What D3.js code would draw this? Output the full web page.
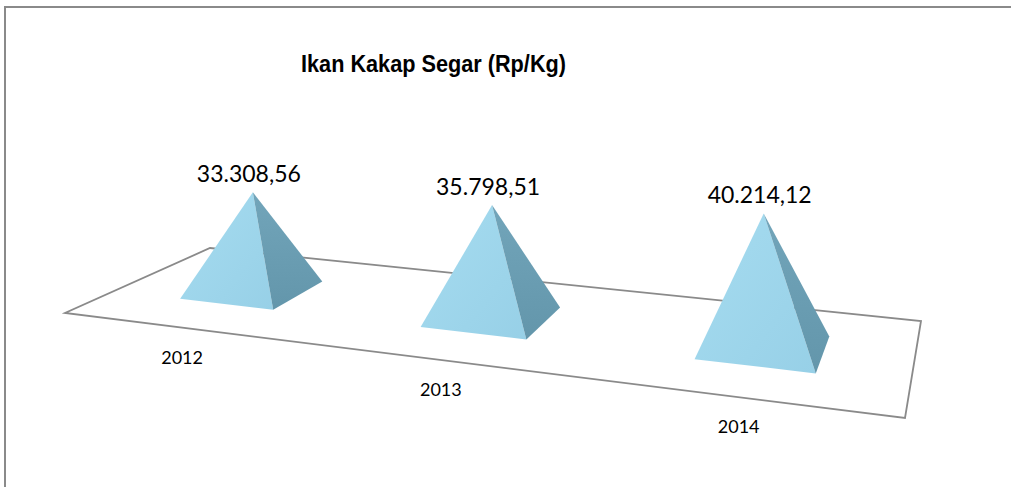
<!DOCTYPE html>
<html>
<head>
<meta charset="utf-8">
<script src="https://cdn.jsdelivr.net/npm/d3@7"></script>
<style>
  body { margin: 0; background: #fff; overflow: hidden; }
  svg { display: block; }
</style>
</head>
<body>
<div id="chart"></div>
<script>
// data
const years = ["2012", "2013", "2014"];
const prices = [33308.56, 35798.51, 40214.12];
const priceLabels = ["33.308,56", "35.798,51", "40.214,12"];
const chartTitle = "Ikan Kakap Segar (Rp/Kg)";

const width = 1011, height = 487;

// floor plane seen in perspective: back-left, back-right, front-right, front-left
const floorCorners = [[210, 248], [921, 321], [905, 418], [65, 313]];

// unit square -> floor quad (projective map), returns [x, y, w]
function makeProjection(q) {
  const [x0, y0] = q[0], [x1, y1] = q[1], [x2, y2] = q[2], [x3, y3] = q[3];
  const dx1 = x1 - x2, dx2 = x3 - x2, dx3 = x0 - x1 + x2 - x3;
  const dy1 = y1 - y2, dy2 = y3 - y2, dy3 = y0 - y1 + y2 - y3;
  const den = dx1 * dy2 - dx2 * dy1;
  const g = (dx3 * dy2 - dx2 * dy3) / den;
  const h = (dx1 * dy3 - dx3 * dy1) / den;
  const a = x1 - x0 + g * x1, b = x3 - x0 + h * x3, c = x0;
  const d = y1 - y0 + g * y1, e = y3 - y0 + h * y3, f = y0;
  return (u, v) => {
    const w = g * u + h * v + 1;
    return [(a * u + b * v + c) / w, (d * u + e * v + f) / w, w];
  };
}
const project = makeProjection(floorCorners);

// scales
const xPos = d3.scalePoint().domain(years).range([0, 1]).padding(0.5);
const yHeight = d3.scaleLinear().domain([0, 50000]).range([0, 131.5]);

const halfU = 0.067, halfV = 0.2, midV = 0.5;

const svg = d3.select("#chart").append("svg")
  .attr("width", width)
  .attr("height", height);

const defs = svg.append("defs");
const gFront = defs.append("linearGradient").attr("id", "front")
  .attr("x1", 0).attr("y1", 0).attr("x2", 1).attr("y2", 1);
gFront.append("stop").attr("offset", "0%").attr("stop-color", "#a6dcf0");
gFront.append("stop").attr("offset", "100%").attr("stop-color", "#97d0e7");
const gSide = defs.append("linearGradient").attr("id", "side")
  .attr("x1", 0).attr("y1", 0).attr("x2", 0).attr("y2", 1);
gSide.append("stop").attr("offset", "0%").attr("stop-color", "#72a5ba");
gSide.append("stop").attr("offset", "100%").attr("stop-color", "#6396ab");

// chart frame
svg.append("path")
  .attr("d", `M5,${height} L5,7 L${width},7`)
  .attr("fill", "none")
  .attr("stroke", "#8a8a8a")
  .attr("stroke-width", 2);

// title
svg.append("text")
  .attr("x", 301)
  .attr("y", 72)
  .attr("textLength", 265)
  .attr("lengthAdjust", "spacingAndGlyphs")
  .attr("font-family", "'Liberation Sans Narrow', 'Liberation Sans', Arial, sans-serif")
  .attr("font-weight", "bold")
  .attr("font-size", "24px")
  .attr("fill", "#000")
  .text(chartTitle);

// floor
const floorPts = [[0, 0], [1, 0], [1, 1], [0, 1]].map(p => project(p[0], p[1]).slice(0, 2));
svg.append("path")
  .attr("d", d3.line()(floorPts) + "Z")
  .attr("fill", "none")
  .attr("stroke", "#8a8a8a")
  .attr("stroke-width", 1.8);

// pyramids
const pyr = years.map((yr, i) => {
  const u = xPos(yr);
  const fl = project(u - halfU, midV + halfV);
  const fr = project(u + halfU, midV + halfV);
  const br = project(u + halfU, midV - halfV);
  const c = project(u, midV);
  const apex = [c[0], c[1] - yHeight(prices[i]) / c[2]];
  return { yr, i, u, fl, fr, br, apex };
});

const gp = svg.selectAll("g.pyr")
  .data(pyr)
  .join("g")
  .attr("class", "pyr");

gp.append("path")
  .attr("d", d => d3.line()([d.apex, d.fl.slice(0, 2), d.fr.slice(0, 2)]) + "Z")
  .attr("fill", "url(#front)");

gp.append("path")
  .attr("d", d => d3.line()([d.apex, d.fr.slice(0, 2), d.br.slice(0, 2)]) + "Z")
  .attr("fill", "url(#side)");

// value labels
svg.selectAll("text.val")
  .data(pyr)
  .join("text")
  .attr("class", "val")
  .attr("x", d => d.apex[0] - 4)
  .attr("y", d => d.apex[1] - 10)
  .attr("text-anchor", "middle")
  .attr("font-family", "Lato, 'Open Sans', sans-serif")
  .attr("font-size", "23px")
  .attr("fill", "#000")
  .text(d => priceLabels[d.i]);

// category labels, in front of the floor edge
svg.selectAll("text.cat")
  .data(pyr)
  .join("text")
  .attr("class", "cat")
  .attr("x", d => project(d.u, 1)[0])
  .attr("y", d => project(d.u, 1)[1] + 36)
  .attr("text-anchor", "middle")
  .attr("font-family", "Lato, 'Open Sans', sans-serif")
  .attr("font-size", "18px")
  .attr("fill", "#000")
  .text(d => d.yr);
</script>
</body>
</html>
